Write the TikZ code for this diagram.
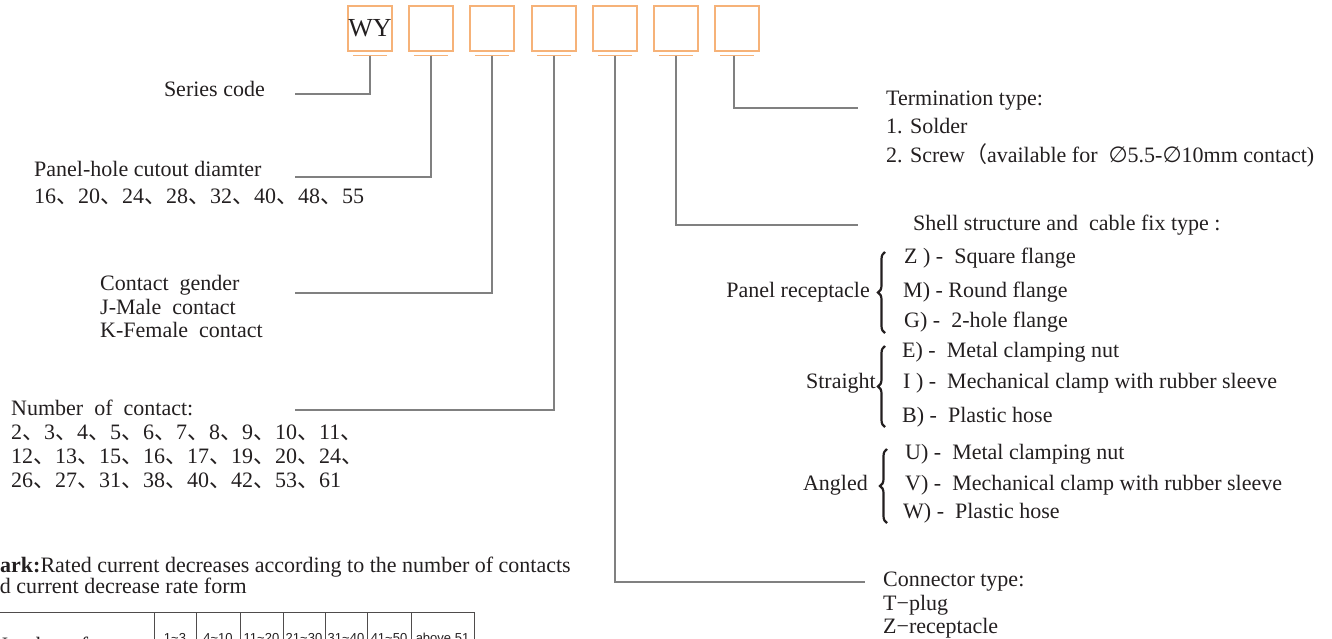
\documentclass[tikz,border=0pt]{standalone}
\usepackage{fontspec}
\setmainfont{Liberation Serif}
\newfontfamily\cjk{Noto Sans CJK SC}
\newfontfamily\dejavu{DejaVu Sans}
\newfontfamily\arial{Liberation Sans}
\usetikzlibrary{decorations.pathreplacing}
\definecolor{boxorange}{RGB}{246,178,120}
\definecolor{leadgray}{RGB}{128,128,128}
\definecolor{inkgray}{RGB}{35,31,32}
\newcommand{\dn}{{\cjk 、}}
\newcommand{\dia}{{\dejavu ∅}}

\begin{document}
\begin{tikzpicture}[x=1pt,y=-1pt,
  codebox/.style={draw=boxorange,line width=1.1pt,minimum width=44pt,minimum height=45pt,inner sep=0pt,text=inkgray,font=\fontsize{26}{26}\selectfont},
  txt/.style={anchor=base west,inner sep=0pt,text=inkgray,font=\fontsize{22}{24}\selectfont},
  txtr/.style={txt,anchor=base east},
  lead/.style={leadgray,line width=1.1pt},
  uline/.style={boxorange,line width=1.1pt},
  curly/.style={decorate,decoration={brace,amplitude=7pt},line width=2.2pt,inkgray},
  tabline/.style={inkgray!80,line width=0.9pt},
  cell/.style={anchor=base,inner sep=0pt,text=inkgray,font=\arial\fontsize{13}{13}\selectfont}]
  \useasboundingbox (0,0) rectangle (1332,638);
  \clip (0,0) rectangle (1332,638);

  % code boxes
  \node[codebox] (b1) at (370,28.5) {WY};
  \node[codebox] (b2) at (431,28.5) {};
  \node[codebox] (b3) at (492,28.5) {};
  \node[codebox] (b4) at (554,28.5) {};
  \node[codebox] (b5) at (615,28.5) {};
  \node[codebox] (b6) at (676,28.5) {};
  \node[codebox] (b7) at (737,28.5) {};
  \foreach \i in {1,...,7}
    \draw[uline] ([xshift=-17pt,yshift=-4pt]b\i.south) -- ([xshift=17pt,yshift=-4pt]b\i.south);

  % left side
  \node[txtr] (series) at (265,96) {Series code};
  \node[txt] (hole) at (34,176) {Panel-hole cutout diamter};
  \node[txt] (holelist) at (34,203) {16\dn 20\dn 24\dn 28\dn 32\dn 40\dn 48\dn 55};
  \node[txt] (gender) at (100,290) {Contact\ \ gender};
  \node[txt] (male) at (100,314) {J-Male\ \ contact};
  \node[txt] (female) at (100,337) {K-Female\ \ contact};
  \node[txt] (num) at (11,415) {Number\ \ of\ \ contact:};
  \node[txt] (num1) at (11,439) {2\dn 3\dn 4\dn 5\dn 6\dn 7\dn 8\dn 9\dn 10\dn 11\dn};
  \node[txt] (num2) at (11,463) {12\dn 13\dn 15\dn 16\dn 17\dn 19\dn 20\dn 24\dn};
  \node[txt] (num3) at (11,487) {26\dn 27\dn 31\dn 38\dn 40\dn 42\dn 53\dn 61};

  \coordinate (e1) at (295,94);
  \coordinate (e2) at (295,177);
  \coordinate (e3) at (295,293);
  \coordinate (e4) at (295,410);
  \coordinate (e5) at (865,582);
  \coordinate (e6) at (858,225);
  \coordinate (e7) at (858,108);

  % leader lines
  \draw[lead] ([yshift=-4pt]b1.south) |- (e1);
  \draw[lead] ([yshift=-4pt]b2.south) |- (e2);
  \draw[lead] ([yshift=-4pt]b3.south) |- (e3);
  \draw[lead] ([yshift=-4pt]b4.south) |- (e4);
  \draw[lead] ([yshift=-4pt]b5.south) |- (e5);
  \draw[lead] ([yshift=-4pt]b6.south) |- (e6);
  \draw[lead] ([xshift=-3pt,yshift=-4pt]b7.south) |- (e7);

  % right side
  \node[txt] (term) at (886,105) {Termination type:};
  \node[txt] (solder) at (886,133) {1. Solder};
  \node[txt] (screw) at (886,162) {2. Screw{\cjk （}available for\ \ \dia5.5-\dia10mm contact)};
  \node[txt] (shell) at (913,230) {Shell structure and\ \ cable fix type :};

  \node[txt] (z) at (904,263) {Z ) -\ \ Square flange};
  \node[txtr] (panel) at (870,297) {Panel receptacle};
  \node[txt] (m) at (903,297) {M) - Round flange};
  \node[txt] (g) at (904,327) {G) -\ \ 2-hole flange};
  \draw[curly] (885,333) -- (885,252);

  \node[txt] (e) at (902,357) {E) -\ \ Metal clamping nut};
  \node[txtr] (straight) at (876,388) {Straight};
  \node[txt] (i) at (903,388) {I ) -\ \ Mechanical clamp with rubber sleeve};
  \node[txt] (b) at (902,422) {B) -\ \ Plastic hose};
  \draw[curly] (885,427) -- (885,346);

  \node[txt] (u) at (905,459) {U) -\ \ Metal clamping nut};
  \node[txtr] (angled) at (868,490) {Angled};
  \node[txt] (v) at (905,490) {V) -\ \ Mechanical clamp with rubber sleeve};
  \node[txt] (w) at (903,518) {W) -\ \ Plastic hose};
  \draw[curly] (887,523) -- (887,449);

  \node[txt] (conn) at (883,586) {Connector type:};
  \node[txt] (plug) at (883,610) {T−plug};
  \node[txt] (recep) at (883,633) {Z−receptacle};

  % remark and table
  \node[txt] (remark) at (-44,572) {\textbf{Remark:}Rated current decreases according to the number of contacts};
  \node[txt] (remark2) at (-21,593) {and current decrease rate form};
  \draw[tabline] (-10,612) -- (474,612);
  \foreach \x in {154,196,240,283,325,367,411,474}
    \draw[tabline] (\x,612) -- (\x,660);
  \node[txt] (rowhead) at (-8,652) {Number of contact};
  \foreach \a/\b/\t in {154/196/1\textasciitilde3,196/240/4\textasciitilde10,240/283/11\textasciitilde20,283/325/21\textasciitilde30,325/367/31\textasciitilde40,367/411/41\textasciitilde50,411/474/above 51}
    \node[cell] at ({(\a+\b)/2},642) {\t};
\end{tikzpicture}
\end{document}
